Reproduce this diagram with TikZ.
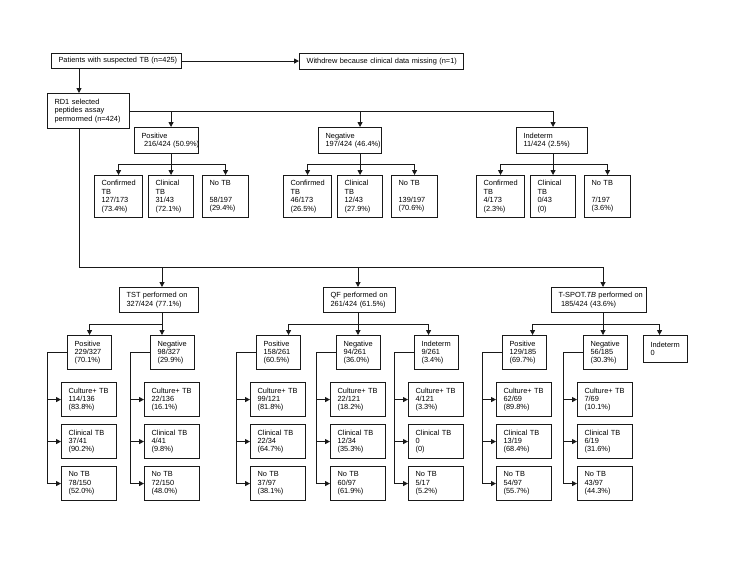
\documentclass[tikz,border=0pt]{standalone}
\usepackage{fontspec}
\setmainfont{Liberation Sans}
\usetikzlibrary{arrows.meta,calc}
\newcommand{\flowfont}{\fontsize{7.4pt}{8.4pt}\selectfont\hyphenpenalty=10000\exhyphenpenalty=10000}
\tikzset{
  flowbox/.style={draw=black!90, line width=1.1pt, anchor=north west, align=left,
    font=\flowfont, inner xsep=7pt, inner ysep=0pt, fill=white},
  flowline/.style={line width=1pt, draw=black!90},
  flowarrow/.style={flowline, -{Triangle[length=5pt,width=5pt]}}
}
\begin{document}
\begin{tikzpicture}[x=1pt, y=-1pt]
  \useasboundingbox (0,0) rectangle (733,566);
  \node[flowbox, text width=116pt, minimum height=15pt] (patients) at (51,53) {\mbox{Patients with suspected TB (n=425)}};
  \node[flowbox, text width=150pt, minimum height=16pt] (withdrew) at (299,53) {\mbox{Withdrew because clinical data missing (n=1)}};
  \node[flowbox, text width=68pt, minimum height=35pt] (rd1) at (47,93) {RD1~selected\\peptides~assay\\\mbox{permormed (n=424)}};
  \coordinate (spine) at (79,267);
  \coordinate (tst-top) at (162,267);
  \coordinate (qf-top) at (358,267);
  \coordinate (ts-top) at (603,267);
  \draw[flowarrow] (patients.east) -- (patients.east -| withdrew.west);
  \draw[flowarrow] (patients.south -| spine) -- (rd1.north -| spine);
  \foreach \g/\bx/\cx/\cw/\ptxt/\ta/\tb/\tc in {
    p/134/94/50/{Positive\\~216/424~(50.9\%)}/{127/173\\(73.4\%)}/{31/43\\(72.1\%)}/{58/197\\(29.4\%)},
    n/318/283/49/{Negative\\197/424~(46.4\%)}/{46/173\\(26.5\%)}/{12/43\\(27.9\%)}/{139/197\\(70.6\%)},
    i/516/476/57/{Indeterm\\11/424~(2.5\%)}/{4/173\\(2.3\%)}/{0/43\\(0)}/{7/197\\(3.6\%)}}{
    \node[flowbox, text width=\cw pt, minimum height=26pt] (\g) at (\bx,127) {\ptxt};
    \node[flowbox, text width=34pt, minimum height=42pt] (\g-conf) at (\cx,175) {Confirmed\\TB\\\ta};
    \node[flowbox, text width=31pt, minimum height=42pt] (\g-clin) at (\cx+54,175) {Clinical\\TB\\\tb};
    \node[flowbox, text width=32pt, minimum height=42pt] (\g-notb) at (\cx+108,175) {No~TB\\~\\\tc};
    \draw[flowarrow] (rd1.east -| \g-clin.north) -- (\g.north -| \g-clin.north);
    \draw[flowarrow] (\g.south -| \g-clin.north) -- (\g-clin.north);
    \draw[flowarrow] ($(\g.south -| \g-clin.north)+(0,10)$) -| (\g-conf.north);
    \draw[flowarrow] ($(\g.south -| \g-clin.north)+(0,10)$) -| (\g-notb.north);
  }
  \draw[flowline] (rd1.east) -- (rd1.east -| i-clin.north);
  \node[flowbox, text width=65pt, minimum height=25pt] (tst) at (119,287) {\mbox{TST performed on}\\327/424~(77.1\%)};
  \node[flowbox, text width=58pt, minimum height=25pt] (qf) at (323,287) {\mbox{QF performed on}\\261/424~(61.5\%)};
  \node[flowbox, text width=81pt, minimum height=25pt] (ts) at (551,287) {\mbox{T-SPOT.\textit{TB} performed on}\\~185/424~(43.6\%)};
  \draw[flowline] (rd1.south -| spine) |- (ts-top);
  \draw[flowarrow] (tst-top) -- (tst.north -| tst-top);
  \draw[flowarrow] (qf-top) -- (qf.north -| qf-top);
  \draw[flowarrow] (ts-top) -- (ts.north -| ts-top);
  \foreach \c/\bx/\ptxt/\ta/\tb/\tc in {
    tp/67/{Positive\\229/327\\(70.1\%)}/{114/136\\(83.8\%)}/{37/41\\(90.2\%)}/{78/150\\(52.0\%)},
    tn/150/{Negative\\98/327\\(29.9\%)}/{22/136\\(16.1\%)}/{4/41\\(9.8\%)}/{72/150\\(48.0\%)},
    qp/256/{Positive\\158/261\\(60.5\%)}/{99/121\\(81.8\%)}/{22/34\\(64.7\%)}/{37/97\\(38.1\%)},
    qn/336/{Negative\\94/261\\(36.0\%)}/{22/121\\(18.2\%)}/{12/34\\(35.3\%)}/{60/97\\(61.9\%)},
    qi/414/{Indeterm\\9/261\\(3.4\%)}/{4/121\\(3.3\%)}/{0\\(0)}/{5/17\\(5.2\%)},
    sp/502/{Positive\\129/185\\(69.7\%)}/{62/69\\(89.8\%)}/{13/19\\(68.4\%)}/{54/97\\(55.7\%)},
    sn/583/{Negative\\56/185\\(30.3\%)}/{7/69\\(10.1\%)}/{6/19\\(31.6\%)}/{43/97\\(44.3\%)}}{
    \node[flowbox, text width=30pt, minimum height=34pt] (\c) at (\bx,335) {\ptxt};
    \node[flowbox, text width=41pt, minimum height=34pt] (\c-cult) at (\bx-6,382) {Culture+~TB\\\ta};
    \node[flowbox, text width=41pt, minimum height=34pt] (\c-clin) at (\bx-6,424) {Clinical~TB\\\tb};
    \node[flowbox, text width=41pt, minimum height=34pt] (\c-notb) at (\bx-6,466) {No~TB\\\tc};
    \foreach \k in {cult,clin,notb}
      \draw[flowarrow] (\c.west) -- ++(-20,0) |- (\c-\k.west);
  }
  \node[flowbox, text width=30pt, minimum height=27pt] (si) at (643,335) {Indeterm\\0};
  \draw[flowarrow] (tst.south -| tst-top) -- (tn.north -| tst-top);
  \draw[flowarrow] (tst.south -| tst-top) ++(0,11) -| (tp.north);
  \draw[flowarrow] (qf.south -| qf-top) -- (qn.north -| qf-top);
  \draw[flowarrow] (qf.south -| qf-top) ++(0,11) -| ([xshift=10pt]qp.north);
  \draw[flowarrow] (qf.south -| qf-top) ++(0,11) -| ([xshift=-8pt]qi.north);
  \draw[flowarrow] (ts.south -| ts-top) -- (sn.north -| ts-top);
  \draw[flowarrow] (ts.south -| ts-top) ++(0,11) -| ([xshift=8pt]sp.north);
  \draw[flowarrow] (ts.south -| ts-top) ++(0,11) -| ([xshift=-6pt]si.north);
\end{tikzpicture}
\end{document}
